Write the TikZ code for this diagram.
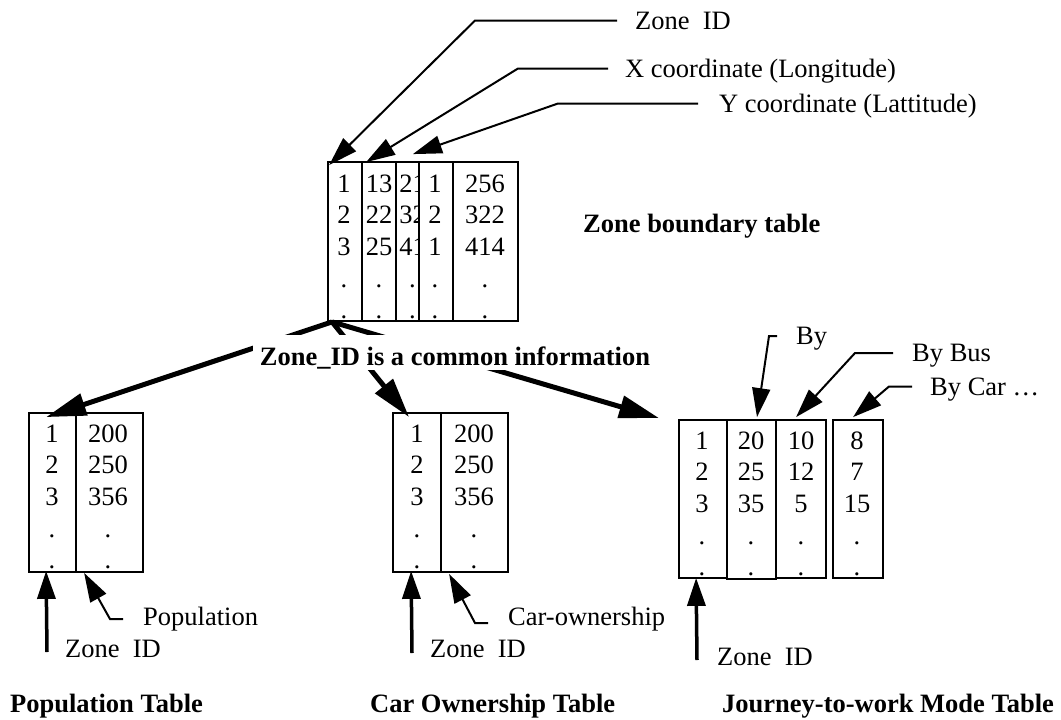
\documentclass[tikz,border=0pt]{standalone}
\usepackage{fontspec}
\setmainfont{Liberation Serif}
\usetikzlibrary{arrows.meta}

% one column of a table: name, x1, y1, x2, y2 (y grows downwards)
\newcommand\colnode[5]{%
  \node[cell, minimum width={#4-#2}, minimum height={#5-#3}] (#1) at ({(#2+#4)/2},{(#3+#5)/2}) {};}
% the entries of a column: name prefix, centre x, first baseline, list of entries
\newcommand\colvals[4]{%
  \foreach \v [count=\k] in {#4} \node[val] (#1-\k) at (#2,{#3+31.7*(\k-1)}) {\v};}

\begin{document}
\begin{tikzpicture}[x=1pt, y=-1pt,
  every node/.style={font=\fontsize{26.5}{32}\selectfont},
  cell/.style={draw, line width=1.8pt, inner sep=0pt},
  val/.style={inner sep=0pt, anchor=base},
  lbl/.style={inner sep=0pt, anchor=west, text height=17.5pt, text depth=0pt},
  title/.style={lbl, font=\fontsize{26.5}{32}\selectfont\bfseries},
  thinarr/.style={line width=2pt, -{Triangle[length=29pt, width=18pt]}},
  zidarr/.style={line width=3.5pt, -{Triangle[length=28pt, width=18pt]}},
  thickarr/.style={line width=5pt, -{Triangle[length=40pt, width=22pt]}}]

\useasboundingbox (0,0) rectangle (1061,720);

% ---- zone boundary table ----
\colnode{zb1}{328}{162}{362}{321}
\colnode{zb2}{362}{162}{396}{321}
\colnode{zb3}{396}{162}{419}{321}
\colnode{zb4}{419}{162}{453}{321}
\colnode{zb5}{453}{162}{518}{321}
\colvals{zbv1}{344}{192}{1,2,3,.,.}
\colvals{zbv2}{379}{192}{13,22,25,.,.}
\begin{scope}
  \clip (zb3.north west) rectangle (zb3.south east);
  \colvals{zbv3}{412.5}{192}{21,32,41,.,.}
\end{scope}
\colvals{zbv4}{435}{192}{1,2,1,.,.}
\colvals{zbv5}{485}{192}{256,322,414,.,.}

\node[lbl] (lzid) at (635,20.5) {Zone~~ID};
\node[lbl] (lx) at (625,68.5) {X coordinate (Longitude)};
\node[lbl] (ly) at (719,103.5) {Y coordinate (Lattitude)};
\node[title] (tzb) at (583,224) {Zone boundary table};

\draw[thinarr] ([xshift=-18pt]lzid.west) -- ++(-142,0) -- ([shift={(2,4)}]zb1.north west);
\draw[thinarr] ([xshift=-17pt]lx.west) -- ++(-90,0) -- ([shift={(5,1)}]zb2.north west);
\draw[thinarr] ([xshift=-21pt]ly.west) -- ++(-140,0) -- ([shift={(-7,-7)}]zb3.north east);

% ---- population table ----
\colnode{p1}{29}{413}{76}{572}
\colnode{p2}{76}{413}{143}{572}
\colvals{pv1}{52}{442}{1,2,3,.,.}
\colvals{pv2}{108}{442}{200,250,356,.,.}
\node[lbl] (lpop) at (143,617) {Population};
\node[lbl] (lzp) at (65,648.5) {Zone~~ID};
\node[title] (tpop) at (10,703.5) {Population Table};
\draw[thinarr] ([shift={(-20,2)}]lpop.west) -- ++(-13,0) -- ([shift={(9,0)}]p2.south west);
\draw[zidarr] ([shift={(-18,3.5)}]lzp.west) -- ([shift={(18,-2)}]p1.south west);

% ---- car ownership table ----
\colnode{c1}{393}{413}{441}{572}
\colnode{c2}{441}{413}{508}{572}
\colvals{cv1}{417}{442}{1,2,3,.,.}
\colvals{cv2}{474}{442}{200,250,356,.,.}
\node[lbl] (lco) at (508,617) {Car-ownership};
\node[lbl] (lzc) at (430,648.5) {Zone~~ID};
\node[title] (tco) at (370,703.5) {Car Ownership Table};
\draw[thinarr] ([shift={(-20,6)}]lco.west) -- ++(-13,0) -- ([shift={(9,1)}]c2.south west);
\draw[zidarr] ([shift={(-18,4.5)}]lzc.west) -- ([shift={(19,-2)}]c1.south west);

% ---- journey-to-work mode table ----
\colnode{j1}{679}{420}{727}{578}
\colnode{j2}{727}{420}{776}{579}
\colnode{j3}{776}{420}{826}{578}
\colnode{j4}{833}{420}{883}{578}
\colvals{jv1}{702}{449}{1,2,3,.,.}
\colvals{jv2}{751}{449}{20,25,35,.,.}
\colvals{jv3}{801}{449}{10,12,5,.,.}
\colvals{jv4}{857}{449}{8,7,15,.,.}
\node[lbl] (lby) at (796,336) {By};
\node[lbl] (lbus) at (912,353) {By Bus};
\node[lbl] (lcar) at (930,386.5) {By Car …};
\node[lbl] (lzj) at (717,657) {Zone~~ID};
\node[title] (tj) at (722,703.5) {Journey-to-work Mode Table};
\draw[thinarr] ([xshift=-19pt]lby.west) -- ++(-8,0) -- ([shift={(5.5,-2)}]j2.north);
\draw[thinarr] ([xshift=-19pt]lbus.west) -- ++(-38,0) -- ([shift={(21,-2)}]j3.north west);
\draw[thinarr] ([xshift=-18pt]lcar.west) -- ++(-23,0) -- ([shift={(21,-2)}]j4.north west);
\draw[zidarr] ([shift={(-20,3)}]lzj.west) -- ([shift={(18,-1)}]j1.south west);

% ---- shared key: arrows from the zone boundary table ----
\draw[thickarr] ([xshift=5pt]zb1.south west) -- ([shift={(18,5)}]p1.north west);
\draw[thickarr] ([xshift=5pt]zb1.south west) -- ([shift={(17,5)}]c1.north west);
\draw[thickarr] ([xshift=5pt]zb1.south west) -- ([shift={(-19,-1)}]j1.north west);
\node[fill=white, inner sep=0pt, minimum width=404, minimum height=35,
      text height=27pt, text depth=2pt,
      font=\fontsize{26.5}{32}\selectfont\bfseries] (common) at (455,352.5)
  {Zone\_ID is a common information};

\end{tikzpicture}
\end{document}
